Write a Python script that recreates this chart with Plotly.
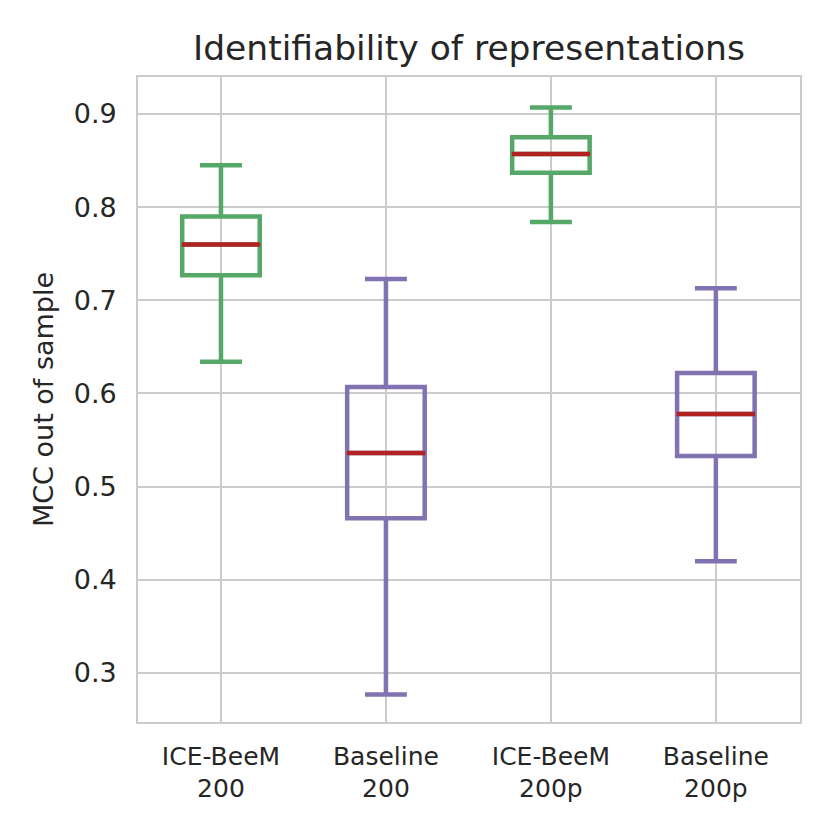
import plotly.graph_objects as go

# box statistics
labels = ["ICE-BeeM<br>200", "Baseline<br>200", "ICE-BeeM<br>200p", "Baseline<br>200p"]
upper = [0.845, 0.723, 0.907, 0.713]
q3 = [0.790, 0.607, 0.875, 0.622]
median = [0.760, 0.536, 0.857, 0.578]
q1 = [0.727, 0.466, 0.837, 0.533]
lower = [0.634, 0.277, 0.784, 0.420]
colors = ["#55a868", "#8172b2", "#55a868", "#8172b2"]

pos = list(range(len(labels)))

fig = go.Figure()
for i in pos:
    fig.add_trace(go.Box(
        x=[pos[i]], q1=[q1[i]], median=[median[i]], q3=[q3[i]],
        lowerfence=[lower[i]], upperfence=[upper[i]],
        width=0.47, whiskerwidth=0.54,
        line=dict(color=colors[i], width=4.5),
        fillcolor="rgba(0,0,0,0)", showlegend=False, hoverinfo="skip",
    ))

# red median lines on top
fig.add_trace(go.Scatter(
    x=pos, y=median, mode="markers", showlegend=False, hoverinfo="skip",
    marker=dict(symbol="line-ew", size=56, line=dict(color="#b22222", width=4.5)),
))

grid = "#cccccc"
fig.update_layout(
    width=830, height=830,
    margin=dict(l=130, r=38, t=69, b=116),
    paper_bgcolor="white", plot_bgcolor="white",
    font=dict(family="DejaVu Sans", color="#262626"),
    title=dict(text="Identifiability of representations", x=0.5, xanchor="center",
               xref="paper", y=0.952, yanchor="middle", font=dict(size=34.5)),
    boxmode="overlay",
)
fig.update_xaxes(
    range=[-0.503, 3.51], tickvals=pos, ticktext=labels,
    showgrid=True, gridcolor=grid, gridwidth=1.6, zeroline=False,
    showline=True, linecolor=grid, linewidth=1.6, mirror=True,
    ticks="", tickfont=dict(size=25), ticklabelstandoff=11,
)
fig.update_yaxes(
    range=[0.2474, 0.9397], tickvals=[0.3, 0.4, 0.5, 0.6, 0.7, 0.8, 0.9],
    tickformat=".1f",
    showgrid=True, gridcolor=grid, gridwidth=1.6, zeroline=False,
    showline=True, linecolor=grid, linewidth=1.6, mirror=True,
    ticks="", tickfont=dict(size=27), ticklabelstandoff=14,
    title=dict(text="MCC out of sample", font=dict(size=27), standoff=12),
)

fig.write_html("out.html")
